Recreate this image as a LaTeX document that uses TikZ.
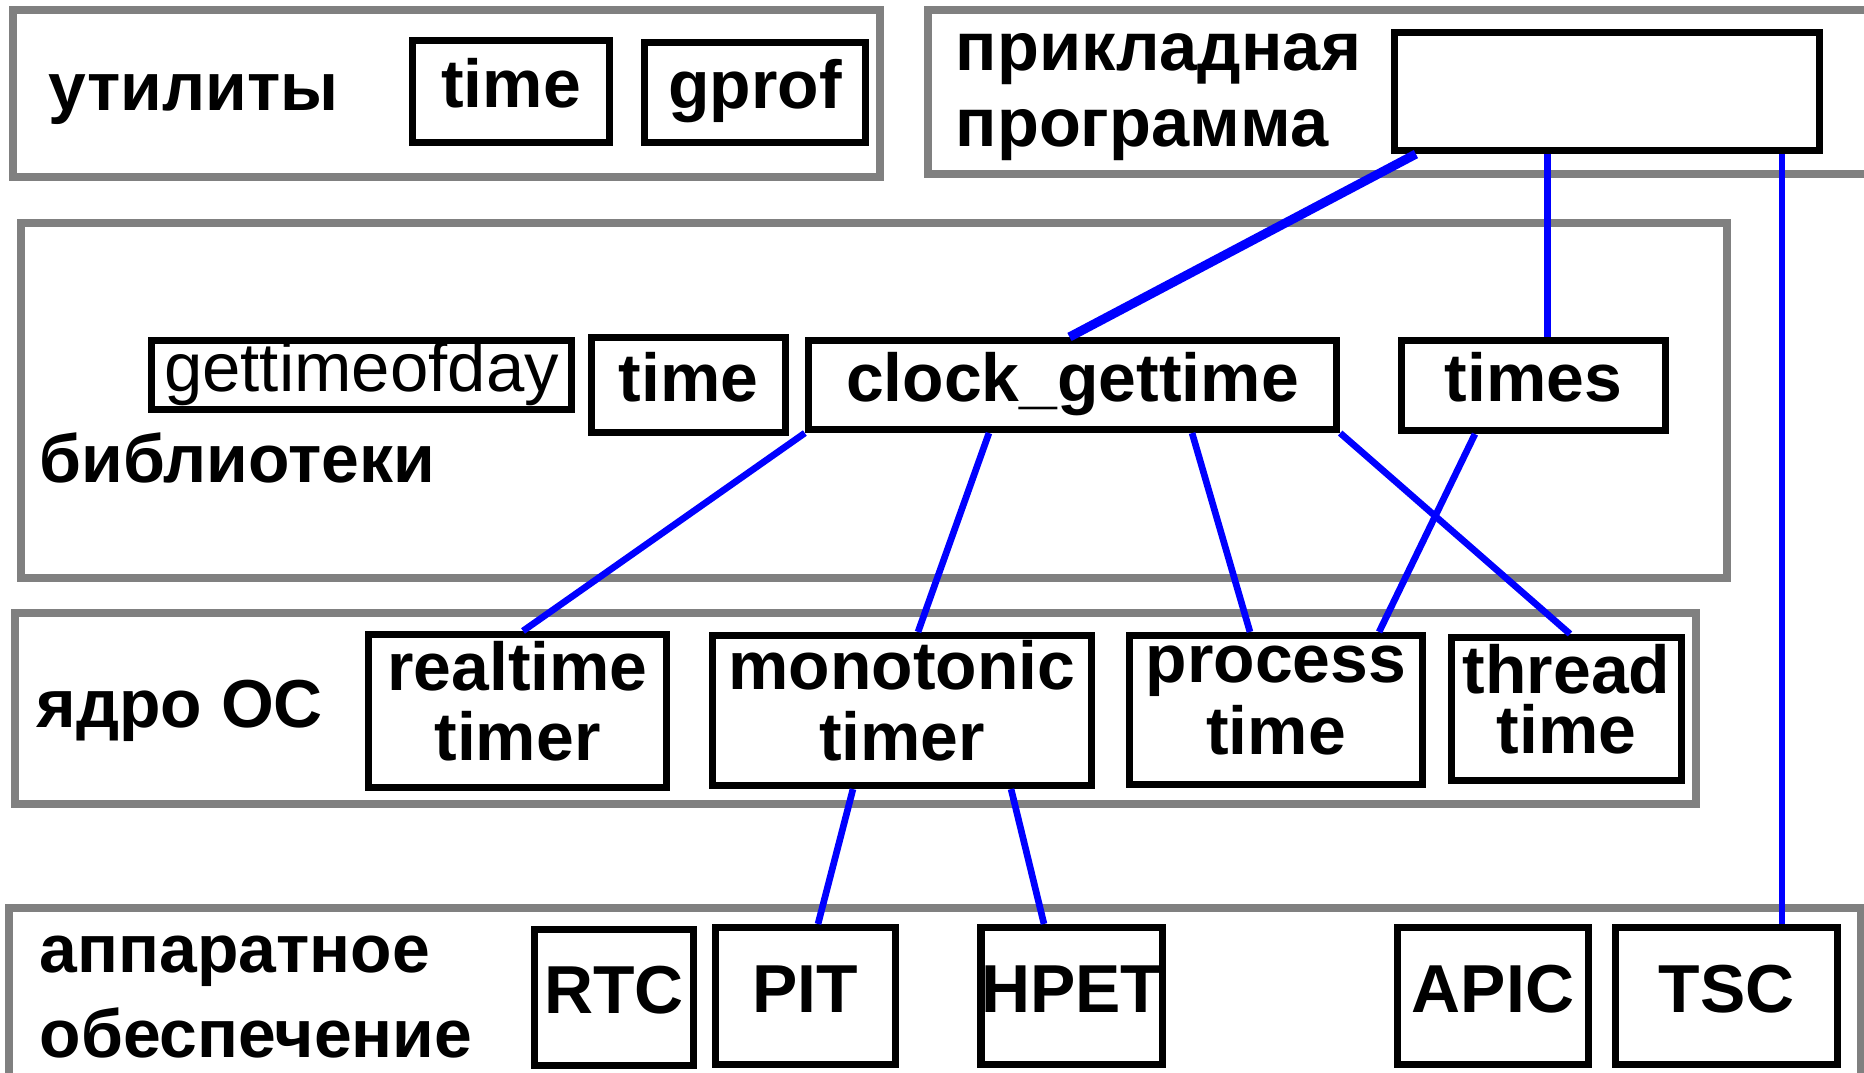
\documentclass[tikz,border=0pt]{standalone}
\usepackage{fontspec}
\setmainfont{Liberation Sans}
\usetikzlibrary{positioning,calc}

\tikzset{
  grp/.style={draw=gray,line width=2.2pt},
  box/.style={draw,line width=2pt,inner sep=0pt,align=center,
    font=\fontsize{19.3pt}{20pt}\selectfont\bfseries},
  one/.style={box,text height=14.2pt,text depth=5pt},
  two/.style={box,execute at end node={\rule[-5.7pt]{0pt}{0pt}}},
  lbl/.style={inner sep=0pt,align=left,font=\fontsize{19.3pt}{21.6pt}\selectfont\bfseries},
  wire/.style={draw=blue,line width=1.9pt},
}

\begin{document}
\begin{tikzpicture}[x=0.01cm,y=-0.01cm]
% layers of time sources, from programs down to hardware
\clip (0,0) rectangle (1864,1072);
\fill[white] (0,0) rectangle (1864,1072);

\draw[grp] (13,10) rectangle (880,177);
\draw[grp] (928,10) rectangle (1880,174);
\draw[grp] (21,223) rectangle (1727,578);
\draw[grp] (15,613) rectangle (1696,804);
\draw[grp] (9,908) rectangle (1861,1090);

\node[lbl,anchor=base west] (utl) at (48,110) {утилиты};
\node[one,minimum width=1.97cm,minimum height=1.02cm] (utime) at (511,91.5) {time};
\node[one,minimum width=2.21cm,minimum height=1.00cm] (gprof) at (755,92.5) {gprof};

\node[lbl,anchor=west,font=\fontsize{19.5pt}{21.6pt}\selectfont\bfseries] (prg) at (955,97) {прикладная\\программа};
\node[box,minimum width=4.25cm,minimum height=1.18cm] (app) at (1607,91.5) {};

\node[lbl,anchor=base west] (lib) at (39,482) {библиотеки};
\node[one,minimum width=4.20cm,minimum height=0.69cm,font=\fontsize{19.6pt}{20pt}\selectfont\mdseries] (gtod) at (361.5,375) {gettimeofday};
\node[one,minimum width=1.94cm,minimum height=0.95cm] (ltime) at (688.5,385) {time};
\node[one,minimum width=5.28cm,minimum height=0.89cm] (clk) at (1072.5,385) {clock\_gettime};
\node[one,minimum width=2.64cm,minimum height=0.90cm] (times) at (1533.5,385.5) {times};

\node[lbl,anchor=base west] (krn) at (36,727) {ядро ОС};
\node[two,minimum width=2.98cm,minimum height=1.53cm] (rt) at (517.5,711) {realtime\\timer};
\node[two,minimum width=3.79cm,minimum height=1.50cm] (mono) at (902,710.5) {monotonic\\timer};
\node[two,minimum width=2.93cm,minimum height=1.49cm,font=\fontsize{19.3pt}{20.5pt}\selectfont\bfseries] (proc) at (1276,710) {process\\time};
\node[two,minimum width=2.30cm,minimum height=1.43cm,font=\fontsize{19.3pt}{17.2pt}\selectfont\bfseries] (thr) at (1566.5,709) {thread\\time};

\node[lbl,anchor=west,font=\fontsize{19.3pt}{24pt}\selectfont\bfseries] (hw) at (39,997) {аппаратное\\обеспечение};
\node[one,minimum width=1.59cm,minimum height=1.36cm] (rtc) at (614,997.5) {RTC};
\node[one,minimum width=1.80cm,minimum height=1.37cm] (pit) at (805.5,996) {PIT};
\node[one,minimum width=1.80cm,minimum height=1.37cm] (hpet) at (1071.5,996) {HPET};
\node[one,minimum width=1.91cm,minimum height=1.37cm] (apic) at (1493,996) {APIC};
\node[one,minimum width=2.22cm,minimum height=1.37cm] (tsc) at (1726.5,996) {TSC};

\coordinate (tmsTop) at ([xshift=0.14cm]times.north);
\coordinate (tscTop) at ([xshift=0.555cm]tsc.north);

\draw[wire,line width=2.6pt] ([xshift=0.25cm]app.south west) -- ([xshift=-0.03cm]clk.north);
\draw[wire] (tmsTop) -- (tmsTop |- app.south);
\draw[wire] (tscTop) -- (tscTop |- app.south);
\draw[wire] (clk.south west) -- ([xshift=0.055cm]rt.north);
\draw[wire] ([xshift=-0.835cm]clk.south) -- ([xshift=0.16cm]mono.north);
\draw[wire] ([xshift=1.195cm]clk.south) -- ([xshift=-0.26cm]proc.north);
\draw[wire] (clk.south east) -- ([xshift=0.035cm]thr.north);
\draw[wire] ([xshift=-0.585cm]times.south) -- ([xshift=1.03cm]proc.north);
\draw[wire] ([xshift=-0.49cm]mono.south) -- ([xshift=0.125cm]pit.north);
\draw[wire] ([xshift=1.09cm]mono.south) -- ([xshift=-0.275cm]hpet.north);
\end{tikzpicture}
\end{document}
